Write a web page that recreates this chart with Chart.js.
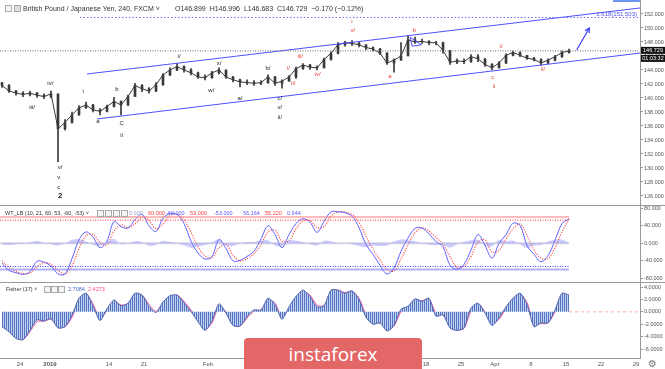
<!DOCTYPE html>
<html>
<head>
<meta charset="utf-8">
<script src="https://cdn.jsdelivr.net/npm/chart.js@4"></script>
<style>
  body { margin: 0; background: #fff; }
  #wrap { position: relative; width: 665px; height: 369px; overflow: hidden; font-family: "Liberation Sans", Arial, sans-serif; }
  canvas { position: absolute; left: 0; }
  .t { position: absolute; white-space: nowrap; line-height: 1; color: #333; }
  .ico { position: absolute; width: 5px; height: 5px; border: 1px solid #aaa; background: #f4f4f4; }
  .sep { position: absolute; left: 0; width: 665px; height: 1px; background: #9a9a9a; }
  #logo { position: absolute; left: 244px; top: 338px; width: 178px; height: 38px; border-radius: 4px; background: #e36767; color: #fff; font-family: "Open Sans", sans-serif; font-size: 19px; text-align: center; line-height: 32px; }
</style>
</head>
<body>
<div id="wrap">
  <canvas id="price" width="665" height="206" style="top:0"></canvas>
  <canvas id="wt" width="665" height="77" style="top:206px"></canvas>
  <canvas id="fisher" width="665" height="86" style="top:283px"></canvas>

  <div class="sep" style="top:205px"></div>
  <div class="sep" style="top:282px"></div>
  <div style="position:absolute;left:613px;top:0;width:27px;height:2px;background:#6b96f2"></div>

  <!-- price header -->
  <div class="ico" style="left:5px;top:5px"></div>
  <div class="ico" style="left:14px;top:5px;background:#ddd"></div>
  <div class="t" style="left:23px;top:5px;font-size:7px">British Pound / Japanese Yen, 240, FXCM ˅</div>
  <div class="t" style="left:175px;top:5px;font-size:7px">O146.899&nbsp; H146.996&nbsp; L146.683&nbsp; C146.729&nbsp; −0.170 (−0.12%)</div>

  <!-- WT header -->
  <div class="t" style="left:5px;top:211px;font-size:5.5px">WT_LB (10, 21, 60, 53, -60, -53) ˅</div>
  <div class="ico" style="left:97px;top:210px"></div>
  <div class="ico" style="left:105px;top:210px"></div>
  <div class="ico" style="left:113px;top:210px"></div>
  <div class="ico" style="left:121px;top:210px"></div>
  <div class="t" style="left:129px;top:211px;font-size:5.5px;color:#9a9ac8">0.000</div>
  <div class="t" style="left:148px;top:211px;font-size:5.5px;color:#ff3b3b">60.000</div>
  <div class="t" style="left:166px;top:211px;font-size:5.5px;color:#5b5bff">-60.000</div>
  <div class="t" style="left:190px;top:211px;font-size:5.5px;color:#ff3b3b">53.000</div>
  <div class="t" style="left:214px;top:211px;font-size:5.5px;color:#5b5bff">-53.000</div>
  <div class="t" style="left:243px;top:211px;font-size:5.5px;color:#5b5bff">56.164</div>
  <div class="t" style="left:265px;top:211px;font-size:5.5px;color:#ff3b3b">55.220</div>
  <div class="t" style="left:287px;top:211px;font-size:5.5px;color:#5b5bff">0.944</div>

  <!-- Fisher header -->
  <div class="t" style="left:6px;top:287px;font-size:5.5px">Fisher (17) ˅</div>
  <div class="ico" style="left:44px;top:286px"></div>
  <div class="ico" style="left:51px;top:286px"></div>
  <div class="ico" style="left:58px;top:286px"></div>
  <div class="t" style="left:68px;top:287px;font-size:5.5px;color:#4a6fd0">2.7084</div>
  <div class="t" style="left:88px;top:287px;font-size:5.5px;color:#ff4f8b">2.4273</div>

  <div id="logo">instaforex</div>
  <div class="t" style="left:648px;top:359px;font-size:10px;color:#777;font-family:'DejaVu Sans'">⚙</div>
</div>

<script>
'use strict';

const FONT = '"Liberation Sans", Arial, sans-serif';

// GBP/JPY, one bar per trading day
let firstOpen = 142.2;
let closes = [141.8, 141.0, 140.7, 140.5, 140.7, 140.4, 140.2, 140.6, 135.6, 136.5,
  137.6, 138.6, 139.0, 138.3, 138.1, 138.8, 139.5, 139.0, 140.2, 141.8,
  141.3, 141.0, 141.9, 143.3, 144.0, 144.5, 144.0, 143.6, 143.0, 142.9,
  143.6, 144.0, 143.0, 142.6, 142.3, 142.2, 142.1, 142.2, 143.0, 142.1,
  142.4, 143.0, 144.2, 144.7, 144.4, 144.3, 145.5, 146.4, 147.6, 147.9,
  147.8, 147.6, 147.2, 147.0, 146.4, 145.0, 145.4, 146.0, 148.3, 148.0,
  148.1, 147.9, 147.9, 146.8, 145.1, 145.3, 145.2, 145.9, 145.6, 144.8,
  144.3, 145.0, 146.1, 146.5, 146.1, 145.7, 145.5, 145.0, 145.4, 145.9,
  146.5, 146.729];
let highs = [142.2, 141.9, 141.1, 140.9, 141.0, 140.8, 140.6, 141.0, 140.0, 136.9,
  138.0, 138.9, 139.4, 139.1, 138.5, 139.0, 140.1, 139.6, 140.4, 142.1,
  141.9, 141.5, 142.2, 143.5, 144.3, 144.9, 144.6, 144.2, 143.7, 143.3,
  143.8, 144.3, 144.0, 143.1, 142.7, 142.6, 142.5, 142.5, 143.3, 143.1,
  142.6, 143.2, 144.4, 144.9, 144.8, 144.6, 145.7, 146.6, 147.9, 148.1,
  148.2, 148.0, 147.6, 147.3, 147.1, 146.5, 145.6, 147.9, 148.9, 148.7,
  148.4, 148.2, 148.1, 148.0, 146.8, 145.6, 145.6, 146.2, 146.2, 145.6,
  144.9, 145.2, 146.3, 146.7, 146.6, 146.1, 145.8, 145.6, 145.6, 146.1,
  146.7, 146.996];
let lows = [141.5, 140.8, 140.4, 140.2, 140.3, 140.1, 139.9, 140.0, 130.9, 135.4,
  136.4, 137.5, 138.5, 138.0, 137.6, 138.0, 138.7, 137.6, 138.9, 140.4,
  140.9, 140.7, 140.9, 141.8, 143.2, 143.9, 143.7, 143.3, 142.8, 142.6,
  142.8, 143.4, 142.8, 142.3, 141.6, 141.9, 141.8, 141.9, 142.1, 141.8,
  141.4, 142.4, 142.8, 144.1, 144.1, 144.0, 144.3, 145.4, 146.3, 147.4,
  147.5, 147.3, 146.9, 146.7, 146.2, 144.8, 143.7, 145.4, 146.5, 147.8,
  147.8, 147.6, 147.6, 146.4, 144.8, 144.9, 144.9, 145.1, 145.2, 144.5,
  144.0, 144.3, 144.9, 146.0, 145.9, 145.5, 145.3, 144.7, 144.9, 145.3,
  145.8, 146.4];

// WT_LB oscillator
let wt1 = [-45, -62, -67, -71, -65, -41, -43, -52, -70, -70,
  -35, 8, 26, 14, -10, 5, 50, 38, 35, 54,
  66, 40, 27, 57, 68, 66, 45, 5, -22, -36,
  -30, 9, -12, -40, -39, -30, -18, 10, 40, 20,
  -10, 20, 45, 56, 48, 25, 50, 72, 72, 70,
  62, 36, -3, -25, -50, -70, -56, -18, 12, 34,
  35, 22, 4, -8, -50, -59, -48, -15, 20, -5,
  -34, 0, 20, 46, 41, -5, -25, -42, -28, 7,
  45, 56.164];
let wt2 = [-40, -55, -64, -69, -68, -53, -44, -48, -62, -70,
  -52, -12, 18, 20, 2, -3, 28, 42, 36, 44,
  60, 52, 33, 44, 63, 67, 55, 25, -8, -29,
  -33, -10, -2, -27, -40, -35, -24, -3, 26, 30,
  5, 6, 33, 51, 52, 36, 38, 62, 72, 71,
  66, 48, 16, -14, -38, -60, -63, -36, -3, 24,
  35, 28, 13, -2, -30, -55, -53, -30, 3, 8,
  -20, -16, 10, 33, 44, 18, -15, -34, -35, -10,
  26, 55.22];
let wtHist = [-3, -4, -2, -1, 2, 6, 1, -2, -5, 0,
  8, 10, 4, -3, -6, 4, 10, -2, 0, 5,
  3, -6, -3, 6, 3, 0, -5, -10, -7, -4,
  2, 9, -5, -6, 0, 3, 3, 6, 7, -5,
  -7, 7, 6, 3, -2, -5, 6, 5, 0, 0,
  -2, -6, -9, -5, -6, -5, 4, 9, 7, 5,
  0, -3, -4, -3, -10, -2, 3, 7, 8, -6,
  -7, 8, 5, 6, -2, -11, -5, -4, 4, 8,
  9, 0.944];

// Fisher (17)
let fisher = [-2.4, -3.2, -4.3, -4.5, -3.0, -1.3, -1.5, -1.1, -2.6, -2.4,
  -0.6, 2.2, 3.0, 1.0, -1.4, 0.5, 1.9, 1.0, 1.4, 3.0,
  2.7, 0.9, -0.1, 1.6, 2.6, 2.7, 1.5, 0.05, -1.6, -3.0,
  -1.5, 1.3, -0.2, -2.2, -2.3, -0.8, 0.3, 0.3, 2.2, 1.2,
  -1.2, 0.8, 2.5, 3.5, 2.5, 0.8, 1.0, 3.5, 3.5, 3.0,
  3.4, 2.0, -0.9, -2.0, -1.8, -3.1, -2.2, 0.4, 0.9, 2.1,
  1.7, 2.2, -0.7, -0.5, -2.6, -3.0, -2.6, 0.6, 1.4, -0.2,
  -2.2, -1.0, 0.8, 2.2, 3.0, 1.2, -2.4, -1.8, -1.8, 0.3,
  3.0, 2.7084];
let trigger = [-2.3, -3.1, -4.1, -4.5, -3.2, -1.6, -1.5, -1.2, -2.4, -2.4,
  -0.9, 1.8, 2.9, 1.3, -1.1, 0.2, 1.7, 1.1, 1.3, 2.7,
  2.7, 1.2, 0.1, 1.3, 2.4, 2.7, 1.7, 0.3, -1.3, -2.8,
  -1.8, 0.9, 0.0, -1.9, -2.3, -1.0, 0.1, 0.3, 1.9, 1.4,
  -0.8, 0.5, 2.2, 3.3, 2.7, 1.1, 1.0, 3.1, 3.5, 3.1,
  3.3, 2.2, -0.4, -1.8, -1.8, -2.9, -2.3, 0.0, 0.8, 1.9,
  1.8, 2.1, -0.2, -0.5, -2.3, -2.9, -2.7, 0.1, 1.3, 0.0,
  -1.9, -1.2, 0.5, 2.0, 2.9, 1.5, -1.9, -1.9, -1.8, 0.0,
  2.6, 2.4273];

// axes
let priceTicks = [126, 128, 130, 132, 134, 136, 138, 140, 142, 144, 146, 148, 150, 152];
let wtTicks = [80, 40, 0, -40, -80];
let wtLevels = [60, 53, -53, -60];
let fisherTicks = [4, 2, 0, -2, -4, -6];
let dateTickBars = [2.57, 6.86, 15.29, 20.29, 29.43, 35.29, 40.29, 45.29, 49.29, 55.29, 60.57, 65.57, 70.43, 75.57, 80.57, 85.57, 90.57];
let dateTickLabels = ['24', '2019', '14', '21', 'Feb', '11', '18', '25', 'Mar', '11', '18', '25', 'Apr', '8', '15', '22', '29'];

// drawings on the price pane (bar index, price)
let upperChannel = [[12.14, 143.43], [91.14, 152.86]];
let lowerChannel = [[13.57, 137.0], [91.14, 146.42]];
let fibLevel = 151.503;
let fibStart = 11.14;
let arrowLine = [[82.1, 146.86], [83.9, 150.0]];
let smallTriangle = [[58.3, 148.7], [59.9, 147.6], [58.6, 147.4], [58.3, 148.7]];
// [bar, price, text, red?, bold?]
let waveLabels = [
  [4.3, 138.7, 'iii/', 0], [6.9, 142.1, 'iv/', 0], [8.3, 130.1, 'v/', 0], [8.1, 128.7, 'v', 0],
  [8.1, 127.3, 'c', 0], [8.3, 126.0, '2', 0, 1], [11.6, 141.0, 'i', 0], [13.7, 136.7, 'a', 0],
  [16.4, 141.3, 'b', 0], [17.1, 136.4, 'C', 0], [17.1, 134.7, 'ii', 0], [25.3, 146.0, 'i/', 0],
  [29.9, 141.1, 'w/', 0], [31.0, 145.0, 'x/', 0], [34.0, 139.9, 'a/', 0], [38.0, 144.3, 'b/', 0],
  [39.7, 140.0, 'c/', 0], [39.7, 138.6, 'v/', 0], [39.7, 137.3, 'ii/', 0],
  [40.9, 144.3, 'i/', 1], [41.6, 142.1, 'ii/', 1], [42.6, 146.0, 'iii/', 1], [45.1, 143.4, 'iv/', 1],
  [50.0, 151.0, 'i', 1], [50.1, 149.6, 'v/', 1], [55.4, 143.1, 'a', 1], [58.9, 149.7, 'b', 1],
  [70.1, 143.0, 'c', 1], [70.3, 141.6, 'ii', 1], [71.3, 147.4, 'i/', 1], [77.3, 144.1, 'ii/', 1]
];

const xMin = -0.286;
const xMax = 91.14;
const lastBar = closes.length - 1;
const lastClose = closes[lastBar];
let opens = closes.map((c, i) => i === 0 ? firstOpen : closes[i - 1]);

function pts(arr) { return arr.map(p => ({ x: p[0], y: p[1] })); }
function series(arr) { return arr.map((v, i) => ({ x: i, y: v })); }
function flat(v, from, to) { return [{ x: from, y: v }, { x: to, y: v }]; }

function yAxis(min, max, ticks, digits) {
  return {
    position: 'right', min: min, max: max,
    afterFit(s) { s.width = 25; s.paddingTop = 0; s.paddingBottom = 0; },
    afterBuildTicks(s) { s.ticks = ticks.map(v => ({ value: v })); },
    ticks: { callback: v => v.toFixed(digits), font: { size: 5.5, family: FONT }, color: '#555', padding: 1, autoSkip: false },
    grid: { drawOnChartArea: false, tickLength: 3, color: '#999' },
    border: { color: '#999' }
  };
}

function baseOptions(y, x) {
  return {
    responsive: false, animation: false, devicePixelRatio: 1, events: [],
    layout: { padding: 0 },
    elements: { point: { radius: 0 }, line: { borderWidth: 1 } },
    plugins: { legend: { display: false }, tooltip: { enabled: false } },
    scales: { x: x || { type: 'linear', min: xMin, max: xMax, offset: false, display: false }, y: y }
  };
}

// wave labels, arrow head, fib text, last price boxes
const pricePlugin = {
  id: 'pricemarks',
  afterDatasetsDraw(chart) {
    const ctx = chart.ctx;
    const x = chart.scales.x, y = chart.scales.y;
    ctx.save();
    ctx.textAlign = 'center';
    ctx.textBaseline = 'middle';
    waveLabels.forEach(l => {
      ctx.font = (l[4] ? 'bold 8px ' : '6px ') + FONT;
      ctx.fillStyle = l[3] ? '#e8403a' : '#222';
      ctx.fillText(l[2], x.getPixelForValue(l[0]), y.getPixelForValue(l[1]));
    });

    // arrow head
    const ax = x.getPixelForValue(arrowLine[1][0]), ay = y.getPixelForValue(arrowLine[1][1]);
    const bx = x.getPixelForValue(arrowLine[0][0]), by = y.getPixelForValue(arrowLine[0][1]);
    const ang = Math.atan2(ay - by, ax - bx);
    ctx.strokeStyle = '#3d3dff';
    ctx.lineWidth = 1.2;
    ctx.beginPath();
    ctx.moveTo(ax - 5 * Math.cos(ang - 0.5), ay - 5 * Math.sin(ang - 0.5));
    ctx.lineTo(ax, ay);
    ctx.lineTo(ax - 5 * Math.cos(ang + 0.5), ay - 5 * Math.sin(ang + 0.5));
    ctx.stroke();

    // fib label
    ctx.font = '6px ' + FONT;
    ctx.fillStyle = '#5050f0';
    ctx.textAlign = 'right';
    ctx.fillText('1.618(151.503)', chart.chartArea.right - 3, y.getPixelForValue(fibLevel) - 3.5);

    // last price + countdown on the axis
    const yp = y.getPixelForValue(lastClose);
    const left = chart.chartArea.right + 1;
    ctx.fillStyle = '#111';
    ctx.fillRect(left, yp - 4, 24, 7);
    ctx.fillRect(left, yp + 4, 24, 7);
    ctx.fillStyle = '#fff';
    ctx.textAlign = 'center';
    ctx.font = '5.5px ' + FONT;
    ctx.fillText(lastClose.toFixed(3), left + 12, yp - 0.5);
    ctx.fillText('01:03:32', left + 12, yp + 7.5);
    ctx.restore();
  }
};

const blue = 'rgba(70,70,255,0.95)';
const ink = '#3a3a3a';

new Chart(document.getElementById('price'), {
  type: 'line',
  data: {
    datasets: [
      { data: flat(lastClose, xMin, xMax), borderColor: '#666', borderDash: [1, 1.5] },
      { data: flat(fibLevel, fibStart, xMax), borderColor: '#6a6aff', borderDash: [1.5, 2] },
      { data: pts(upperChannel), borderColor: blue },
      { data: pts(lowerChannel), borderColor: blue },
      { data: pts(arrowLine), borderColor: '#3d3dff', borderWidth: 1.2 },
      { data: pts(smallTriangle), borderColor: blue },
      { data: series(closes), borderColor: ink, borderWidth: 1 },
      {
        type: 'bar', grouped: false, barThickness: 1,
        data: closes.map((c, i) => ({ x: i, y: [lows[i], highs[i]] })),
        backgroundColor: ink
      },
      {
        type: 'bar', grouped: false, barThickness: 2,
        data: closes.map((c, i) => ({ x: i, y: [opens[i], c] })),
        backgroundColor: ink
      }
    ]
  },
  options: baseOptions(yAxis(124.571, 154.0, priceTicks, 3)),
  plugins: [pricePlugin]
});

new Chart(document.getElementById('wt'), {
  type: 'line',
  data: {
    datasets: [
      { data: flat(0, xMin, lastBar), borderColor: 'rgba(160,160,205,0.45)', borderWidth: 2 },
      { data: flat(wtLevels[0], xMin, lastBar), borderColor: 'rgba(255,120,120,0.5)', borderWidth: 2 },
      { data: flat(wtLevels[1], xMin, lastBar), borderColor: '#ff3030', borderDash: [1, 1.5] },
      { data: flat(wtLevels[2], xMin, lastBar), borderColor: '#4040ff', borderDash: [1, 1.5] },
      { data: flat(wtLevels[3], xMin, lastBar), borderColor: 'rgba(110,110,255,0.55)', borderWidth: 2 },
      { data: series(wtHist), borderWidth: 0, fill: 'origin', backgroundColor: 'rgba(110,110,255,0.35)', tension: 0.3 },
      { data: series(wt1), borderColor: 'rgba(80,80,255,0.9)', tension: 0.35 },
      { data: series(wt2), borderColor: 'rgba(255,40,40,0.9)', borderWidth: 1.2, borderDash: [1, 1.5], tension: 0.35 }
    ]
  },
  options: baseOptions(yAxis(-90.7, 85.3, wtTicks, 3))
});

// striped fill like the fisher histogram
let pc = document.createElement('canvas');
pc.width = 2; pc.height = 1;
let pctx = pc.getContext('2d');
pctx.fillStyle = '#5476c2'; pctx.fillRect(0, 0, 1, 1);
pctx.fillStyle = '#c4d2ef'; pctx.fillRect(1, 0, 1, 1);
let stripes = pctx.createPattern(pc, 'repeat');

new Chart(document.getElementById('fisher'), {
  type: 'line',
  data: {
    datasets: [
      { data: flat(0, lastBar, xMax), borderColor: 'rgba(255,140,120,0.7)', borderDash: [3, 3] },
      { data: series(fisher), borderColor: '#4c62b0', fill: 'origin', backgroundColor: stripes, tension: 0.25 },
      { data: series(trigger), borderColor: '#ff5fa0', tension: 0.25 }
    ]
  },
  options: baseOptions(yAxis(-7.45, 4.65, fisherTicks, 4), {
    type: 'linear', min: xMin, max: xMax, offset: false, position: 'bottom',
    afterFit(s) { s.height = 11; s.paddingLeft = 0; s.paddingRight = 0; },
    afterBuildTicks(s) { s.ticks = dateTickBars.map(v => ({ value: v })); },
    ticks: {
      autoSkip: false, maxRotation: 0, padding: 3, color: '#555',
      callback: (v, i) => dateTickLabels[i],
      font: c => ({ size: 6, family: FONT, weight: c.index === 1 ? 'bold' : 'normal' })
    },
    grid: { drawOnChartArea: false, tickLength: 0, color: '#999' },
    border: { color: '#999' }
  })
});
</script>
</body>
</html>
